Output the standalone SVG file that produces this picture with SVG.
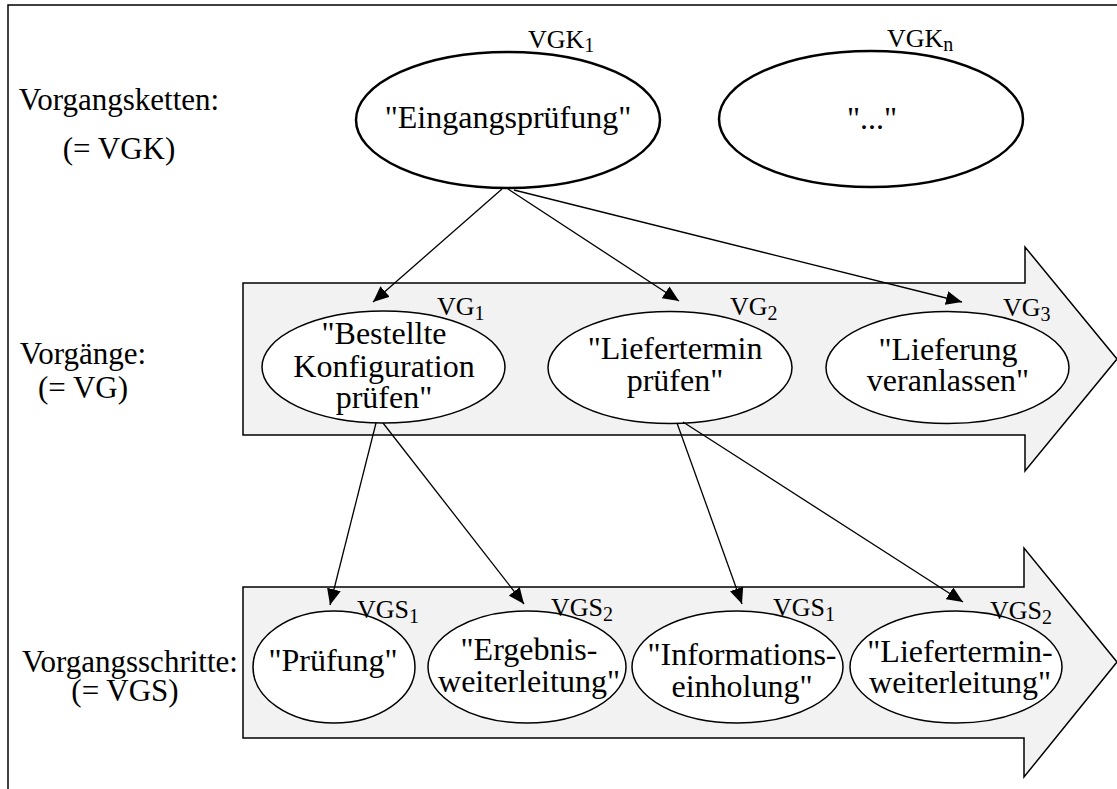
<svg xmlns="http://www.w3.org/2000/svg" width="1117" height="789" viewBox="0 0 1117 789" font-family="'Liberation Serif', 'DejaVu Serif', 'Times New Roman', serif">
<style>
text{font-family:'Liberation Serif','DejaVu Serif','Times New Roman',serif;fill:#000}
.lab{font-size:31px;text-anchor:middle}
.nt{font-size:32px;text-anchor:middle}
.id{font-size:26px}
.sub{font-size:20px}
.band{fill:#f2f2f2;stroke:#000;stroke-width:1.5}
.big{fill:#fff;stroke:#000;stroke-width:2.5}
.ell{fill:#fff;stroke:#000;stroke-width:1.5}
.con line{stroke:#000;stroke-width:1.3;marker-end:url(#ah)}
</style>
<defs>
<marker id="ah" markerUnits="userSpaceOnUse" markerWidth="17" markerHeight="14" refX="16" refY="7" orient="auto" viewBox="0 0 17 14">
<path d="M0,0 L16,7 L0,14 z" fill="#000"/>
</marker>
</defs>
<rect x="8" y="5" width="1130" height="800" fill="#fff" stroke="#000" stroke-width="1.5"/>

<g id="labels" font-family="'Liberation Serif', serif">
<text class="lab" x="119" y="110">Vorgangsketten:</text>
<text class="lab" x="119" y="159">(= VGK)</text>
<text class="lab" x="83" y="364">Vorgänge:</text>
<text class="lab" x="83" y="398">(= VG)</text>
<text class="lab" x="130" y="672">Vorgangsschritte:</text>
<text class="lab" x="125" y="701">(= VGS)</text>
</g>

<g id="band-vg">
<path class="band" d="M243,283 H1025 V247 L1117,359 L1025,471 V435 H243 Z"/>
</g>
<g id="band-vgs">
<path class="band" d="M243,587 H1024 V548 L1117,662 L1024,777 V738 H243 Z"/>
</g>

<g id="vgk1">
<ellipse class="big" cx="508" cy="120" rx="152" ry="68"/>
<text class="nt" x="508" y="128">"Eingangsprüfung"</text>
<text class="id" x="528" y="48">VGK<tspan class="sub" dy="4">1</tspan></text>
</g>
<g id="vgkn">
<ellipse class="big" cx="871" cy="119" rx="152" ry="68"/>
<text class="nt" x="872" y="129">"..."</text>
<text class="id" x="887" y="47">VGK<tspan class="sub" dy="4">n</tspan></text>
</g>

<g id="vg1">
<ellipse class="ell" cx="383.5" cy="367" rx="121.5" ry="56"/>
<text class="nt" x="384" y="344">"Bestellte</text>
<text class="nt" x="384" y="377">Konfiguration</text>
<text class="nt" x="384" y="408">prüfen"</text>
<text class="id" x="437" y="315">VG<tspan class="sub" dy="5">1</tspan></text>
</g>
<g id="vg2">
<ellipse class="ell" cx="670" cy="367.5" rx="122" ry="56"/>
<text class="nt" x="675" y="359">"Liefertermin</text>
<text class="nt" x="675" y="391">prüfen"</text>
<text class="id" x="730" y="315">VG<tspan class="sub" dy="5">2</tspan></text>
</g>
<g id="vg3">
<ellipse class="ell" cx="947.5" cy="367.5" rx="121.5" ry="56"/>
<text class="nt" x="948" y="360">"Lieferung</text>
<text class="nt" x="948" y="391">veranlassen"</text>
<text class="id" x="1003" y="316">VG<tspan class="sub" dy="5">3</tspan></text>
</g>

<g id="vgs1a">
<ellipse class="ell" cx="334" cy="667" rx="81" ry="56"/>
<text class="nt" x="333" y="671">"Prüfung"</text>
<text class="id" x="357" y="618">VGS<tspan class="sub" dy="5">1</tspan></text>
</g>
<g id="vgs2a">
<ellipse class="ell" cx="527" cy="667" rx="99" ry="56"/>
<text class="nt" x="529" y="660">"Ergebnis-</text>
<text class="nt" x="529" y="692">weiterleitung"</text>
<text class="id" x="551" y="616">VGS<tspan class="sub" dy="5">2</tspan></text>
</g>
<g id="vgs1b">
<ellipse class="ell" cx="737.5" cy="667" rx="105.5" ry="56"/>
<text class="nt" x="742" y="665">"Informations-</text>
<text class="nt" x="742" y="697">einholung"</text>
<text class="id" x="773" y="616">VGS<tspan class="sub" dy="5">1</tspan></text>
</g>
<g id="vgs2b">
<ellipse class="ell" cx="956" cy="667" rx="106" ry="56"/>
<text class="nt" x="960" y="662">"Liefertermin-</text>
<text class="nt" x="960" y="693">weiterleitung"</text>
<text class="id" x="990" y="619">VGS<tspan class="sub" dy="5">2</tspan></text>
</g>

<g id="connectors" class="con">
<line x1="502" y1="189" x2="373" y2="302"/>
<line x1="508" y1="189" x2="679" y2="301"/>
<line x1="514" y1="190" x2="962" y2="302"/>
<line x1="376" y1="423" x2="330" y2="605"/>
<line x1="383" y1="423" x2="524" y2="604"/>
<line x1="677" y1="423" x2="742" y2="604"/>
<line x1="683" y1="422" x2="963" y2="602"/>
</g>
</svg>
